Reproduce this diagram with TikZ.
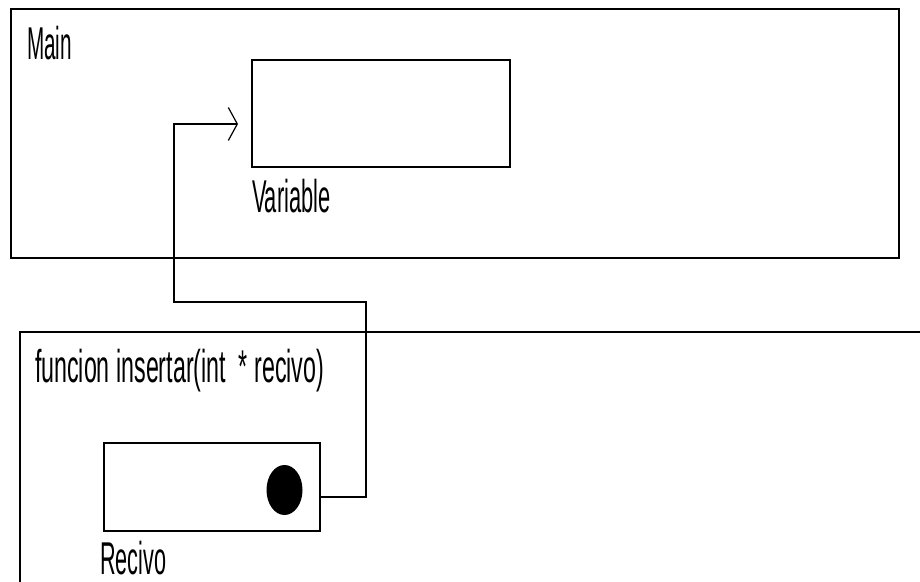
\documentclass[tikz,border=0pt]{standalone}
\usepackage{fontspec}
\setmainfont{Liberation Sans}
\usetikzlibrary{arrows.meta,shapes.geometric}
% condensed label text
\newcommand{\narrowtext}[2][0.475]{\scalebox{#1}[1]{\fontsize{46bp}{48bp}\selectfont #2}}
\tikzset{
  frame/.style={draw=black, line width=1.7bp, rectangle, inner sep=0pt, fill=white},
  label/.style={anchor=base west, inner sep=0pt, outer sep=0pt},
  wire/.style={draw=black, line width=1.7bp},
}
\begin{document}
\begin{tikzpicture}[x=1bp, y=-1bp]
  \useasboundingbox[fill=white] (0,0) rectangle (920,582);

  % outer scope: main
  \node[frame, minimum width=888bp, minimum height=249bp] (main) at (455,133.5) {};
  \node[label] (mainlbl) at (27,60) {\narrowtext[0.45]{Main}};
  \node[frame, minimum width=258bp, minimum height=107bp] (var) at (381,113.5) {};
  \node[label] (varlbl) at (252,213) {\narrowtext{Variable}};

  % function scope, running past the page edges
  \coordinate (fntr) at (921,332);
  \coordinate (fntl) at (20,332);
  \coordinate (fnbl) at (20,583);
  \draw[wire] (fntr) -- (fntl) -- (fnbl);
  \node[label] (fnlbl) at (35,382) {\narrowtext[0.505]{funcion insertar(int \ * recivo)}};
  \node[frame, minimum width=216bp, minimum height=88bp] (rec) at (212,487) {};
  \node[shape=ellipse, fill=black, inner sep=0pt, minimum width=36bp, minimum height=50bp] (dot) at (284.5,490) {};
  \node[label] (reclbl) at (100,574) {\narrowtext[0.47]{Recivo}};

  % pointer from the parameter back to the variable
  \coordinate (src) at (rec.east |- 0,497);
  \coordinate (tip) at (238,124);
  \coordinate (turnA) at (366,302);
  \coordinate (turnB) at (174,302);
  \draw[wire, -{Straight Barb[length=9bp, width=33bp, line width=1.2bp]}]
    (src) -| (turnA) -- (turnB) |- (tip);
\end{tikzpicture}
\end{document}
